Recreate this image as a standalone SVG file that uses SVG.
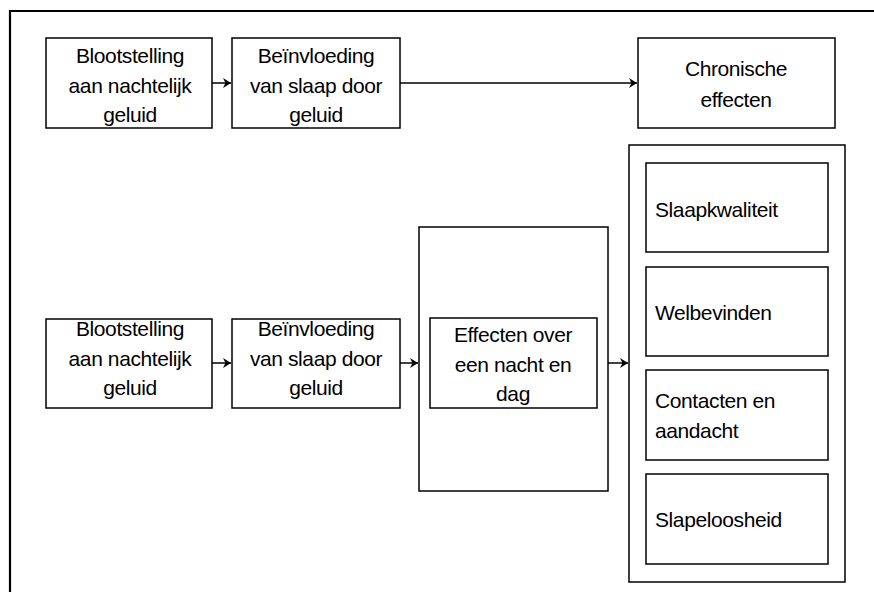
<svg xmlns="http://www.w3.org/2000/svg" width="874" height="592" viewBox="0 0 874 592">
<style>
.box{fill:#fff;stroke:#000;stroke-width:1.5}
.t{font-family:"Liberation Sans",Arial,sans-serif;font-size:21px;fill:#000;letter-spacing:-0.4px}
.c{text-anchor:middle}
.ln{stroke:#000;stroke-width:1.5;fill:none}
</style>
<defs>
<marker id="ah" markerWidth="9" markerHeight="10" refX="8" refY="5" orient="auto" markerUnits="userSpaceOnUse">
<path d="M0,0 L8,5 L0,10 L2.5,5 Z" fill="#000"/>
</marker>
</defs>
<rect x="0" y="0" width="874" height="592" fill="#fff"/>
<path d="M10,600 L10,11 L880,11" fill="none" stroke="#000" stroke-width="2.2"/>
<g id="n1">
<rect class="box" x="46" y="38" width="166" height="90"/>
<text class="t c" x="130" y="63">Blootstelling</text>
<text class="t c" x="130" y="93">aan nachtelijk</text>
<text class="t c" x="130" y="122">geluid</text>
</g>
<g id="n2">
<rect class="box" x="232" y="38" width="168" height="90"/>
<text class="t c" x="316" y="63">Beïnvloeding</text>
<text class="t c" x="316" y="93">van slaap door</text>
<text class="t c" x="316" y="122">geluid</text>
</g>
<g id="n3">
<rect class="box" x="638" y="38" width="197" height="90"/>
<text class="t c" x="736" y="76">Chronische</text>
<text class="t c" x="736" y="107">effecten</text>
</g>
<g id="n4">
<rect class="box" x="46" y="319" width="166" height="89"/>
<text class="t c" x="130" y="336">Blootstelling</text>
<text class="t c" x="130" y="366">aan nachtelijk</text>
<text class="t c" x="130" y="395">geluid</text>
</g>
<g id="n5">
<rect class="box" x="232" y="319" width="168" height="89"/>
<text class="t c" x="316" y="336">Beïnvloeding</text>
<text class="t c" x="316" y="366">van slaap door</text>
<text class="t c" x="316" y="395">geluid</text>
</g>
<g id="n6">
<rect class="box" x="419" y="227" width="189" height="264"/>
<rect class="box" x="430" y="318" width="167" height="90"/>
<text class="t c" x="513" y="342">Effecten over</text>
<text class="t c" x="513" y="372">een nacht en</text>
<text class="t c" x="513" y="401">dag</text>
</g>
<g id="n7">
<rect class="box" x="629" y="145" width="216" height="437"/>
<rect class="box" x="646" y="163" width="182" height="89"/>
<text class="t" x="655" y="217">Slaapkwaliteit</text>
<rect class="box" x="646" y="267" width="182" height="89"/>
<text class="t" x="655" y="320">Welbevinden</text>
<rect class="box" x="646" y="370" width="182" height="90"/>
<text class="t" x="655" y="408">Contacten en</text>
<text class="t" x="655" y="438">aandacht</text>
<rect class="box" x="646" y="474" width="182" height="90"/>
<text class="t" x="655" y="527">Slapeloosheid</text>
</g>
<g id="connectors">
<line class="ln" x1="212" y1="83" x2="231" y2="83" marker-end="url(#ah)"/>
<line class="ln" x1="400" y1="83" x2="637" y2="83" marker-end="url(#ah)"/>
<line class="ln" x1="212" y1="363" x2="231" y2="363" marker-end="url(#ah)"/>
<line class="ln" x1="400" y1="363" x2="418" y2="363" marker-end="url(#ah)"/>
<line class="ln" x1="608" y1="363" x2="628" y2="363" marker-end="url(#ah)"/>
</g>
</svg>
